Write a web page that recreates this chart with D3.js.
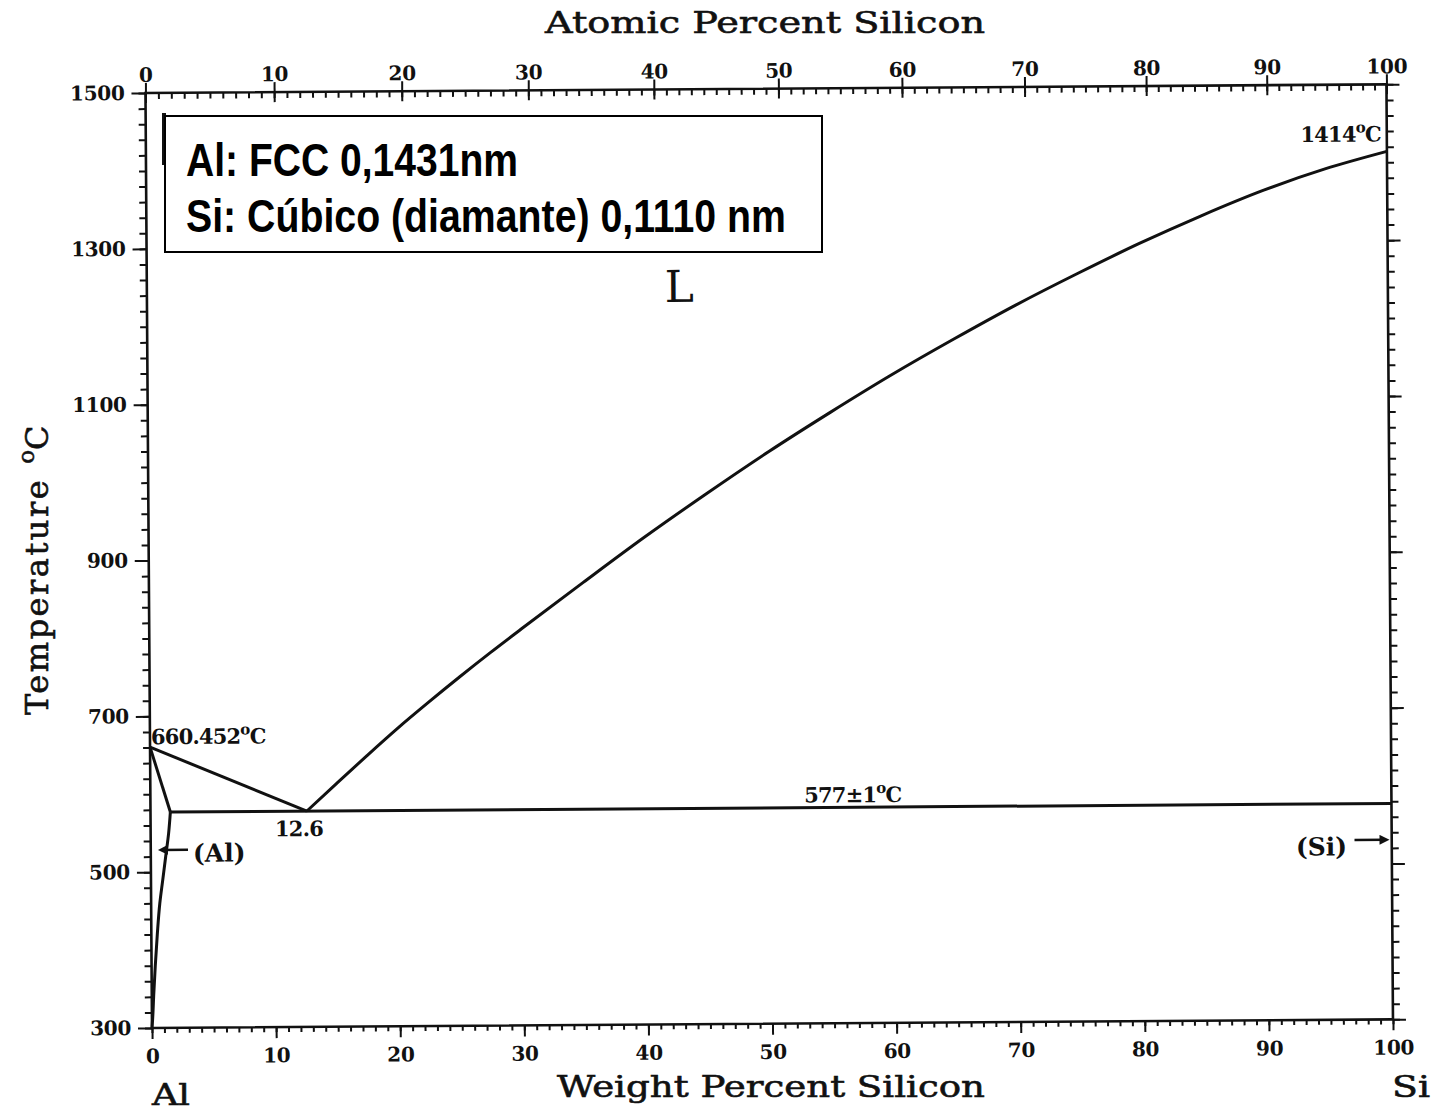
<!DOCTYPE html>
<html lang="es">
<head>
<meta charset="UTF-8">
<title>Diagrama de fases Al-Si</title>
<script src="https://cdn.jsdelivr.net/npm/d3@7/dist/d3.min.js"></script>
<style>
  body { margin: 0; background: #fff; }
  svg { display: block; }
</style>
</head>
<body>
<svg id="chart" width="1435" height="1113"></svg>
<script>
const liqSiWt = [12.6, 15, 17.5, 20, 22.5, 25, 27.5, 30, 35, 40, 45, 50, 55, 60, 65, 70, 75, 80, 85, 90, 95, 100];
const liqSiT  = [577, 612, 648, 683, 716, 748, 779, 809, 868, 926, 981, 1034, 1084, 1132, 1177, 1220, 1260, 1298, 1333, 1365, 1392, 1414];
const liqAlWt = [0, 12.6];
const liqAlT  = [660.452, 577];
const solAlWt = [0, 1.6];
const solAlT  = [660.452, 577];
const solvusWt = [1.6, 1.45, 1.2, 0.95, 0.7, 0.48, 0.3, 0.15, 0.05, 0];
const solvusT  = [577, 550, 520, 490, 460, 420, 380, 340, 310, 300];
const eutWt = [1.6, 100];
const eutT  = [577, 577];

// ejes
const wtTicks = [0, 10, 20, 30, 40, 50, 60, 70, 80, 90, 100];
const atTicks = [0, 10, 20, 30, 40, 50, 60, 70, 80, 90, 100];
const tempTicks = [300, 500, 700, 900, 1100, 1300, 1500];
const mAl = 26.9815, mSi = 28.0855;

const serif = '"DejaVu Serif", "Liberation Serif", serif';
const svg = d3.select('#chart');
svg.append('rect').attr('width', 1435).attr('height', 1113).attr('fill', '#fff');

const W = 1241, H = 935;
const x = d3.scaleLinear().domain([0, 100]).range([0, W]);
const y = d3.scaleLinear().domain([300, 1500]).range([0, -H]);
// escala superior: % atómico -> posición en % en peso
const atToWt = a => 100 * a * mSi / (a * mSi + (100 - a) * mAl);
const atDom = d3.range(0, 101);
const xa = d3.scaleLinear().domain(atDom).range(atDom.map(a => x(atToWt(a))));

// la hoja escaneada está un poco girada
const g = svg.append('g').attr('transform', 'translate(152,1028) rotate(-0.4)');

function axis(gen, tx, ty) {
  const a = g.append('g').attr('transform', `translate(${tx},${ty})`).call(gen);
  a.select('.domain').remove();
  a.selectAll('line').attr('stroke', '#111').attr('stroke-width', 2);
  a.selectAll('text')
    .attr('font-family', serif).attr('font-size', 20).attr('font-weight', 'bold')
    .attr('fill', '#111').attr('letter-spacing', -0.3);
  return a;
}
const fmt = d3.format('d');

// inferior (peso)
axis(d3.axisBottom(x).tickValues(d3.range(0, 101)).tickSize(5).tickFormat(''), 0, 0);
axis(d3.axisBottom(x).tickValues(wtTicks).tickSize(11).tickPadding(10).tickFormat(fmt), 0, 0);
// superior (atómico)
axis(d3.axisTop(xa).tickValues(d3.range(0, 101)).tickSize(-6).tickFormat(''), 0, -H);
axis(d3.axisTop(xa).tickValues(atTicks).tickSize(-10).tickFormat(''), 0, -H);
axis(d3.axisTop(xa).tickValues(atTicks).tickSize(10).tickPadding(1).tickFormat(fmt), 0, -H);
// izquierda
axis(d3.axisLeft(y).tickValues(d3.range(300, 1501, 20)).tickSize(7).tickFormat(''), 0, 0);
axis(d3.axisLeft(y).tickValues(tempTicks).tickSize(14).tickPadding(7).tickFormat(fmt), 0, 0);
// derecha
axis(d3.axisRight(y).tickValues(d3.range(300, 1501, 20)).tickSize(7).tickFormat(''), W, 0);
axis(d3.axisRight(y).tickValues(tempTicks).tickSize(13).tickFormat(''), W, 0);

g.append('rect')
  .attr('x', 0).attr('y', -H).attr('width', W).attr('height', H)
  .attr('fill', 'none').attr('stroke', '#111').attr('stroke-width', 2.6);

// curvas
const zip = (a, b) => a.map((v, i) => [v, b[i]]);
const lineX = d3.line().x(d => x(d[0])).y(d => y(d[1])).curve(d3.curveMonotoneX);
const lineY = d3.line().x(d => x(d[0])).y(d => y(d[1])).curve(d3.curveMonotoneY);
[
  [lineX, zip(liqSiWt, liqSiT)],
  [lineX, zip(liqAlWt, liqAlT)],
  [lineX, zip(solAlWt, solAlT)],
  [lineY, zip(solvusWt, solvusT)],
  [lineX, zip(eutWt, eutT)]
].forEach(([gen, d]) => {
  g.append('path').attr('d', gen(d))
    .attr('fill', 'none').attr('stroke', '#111').attr('stroke-width', 3)
    .attr('stroke-linejoin', 'round');
});

// etiquetas
function label(txt, px, py, opts = {}) {
  const t = g.append('text')
    .attr('x', px).attr('y', py)
    .attr('font-family', serif).attr('font-weight', 'bold')
    .attr('font-size', opts.size || 21)
    .attr('letter-spacing', opts.ls != null ? opts.ls : -0.8)
    .attr('text-anchor', opts.anchor || 'start')
    .attr('fill', '#111');
  if (opts.deg) {
    t.append('tspan').text(txt);
    t.append('tspan').attr('dy', -9).attr('font-size', 15).text('o');
    t.append('tspan').attr('dy', 9).text('C');
  } else {
    t.text(txt);
  }
  return t;
}

label('660.452', x(0) + 1, y(660.452) - 3, { deg: true });
label('12.6', x(12.6) - 8, y(577) + 25, { anchor: 'middle' });
label('577±1', x(56.6), y(577) - 5, { deg: true, anchor: 'middle' });
label('1414', x(100) - 6, y(1414) - 10, { deg: true, anchor: 'end' });
label('(Al)', x(3.4), y(513), { size: 25, ls: 0 });
label('(Si)', x(96.4), y(511), { size: 25, ls: 0, anchor: 'end' });
label('L', x(42.9), y(1227), { size: 44, ls: 0, anchor: 'middle' }).attr('font-weight', 'normal');

// flechas
const defs = svg.append('defs');
defs.append('marker').attr('id', 'arrow')
  .attr('viewBox', '0 0 10 10').attr('refX', 6).attr('refY', 5)
  .attr('markerWidth', 6).attr('markerHeight', 4).attr('orient', 'auto')
  .append('path').attr('d', 'M0,0 L10,5 L0,10 z').attr('fill', '#111');
[[3.0, 0.9, 528.5], [97.0, 99.5, 530.5]].forEach(([a, b, t]) => {
  g.append('line')
    .attr('x1', x(a)).attr('x2', x(b)).attr('y1', y(t)).attr('y2', y(t))
    .attr('stroke', '#111').attr('stroke-width', 2.5)
    .attr('marker-end', 'url(#arrow)');
});

// títulos de ejes
function title(txt, px, py, len) {
  return svg.append('text')
    .attr('x', px).attr('y', py)
    .attr('font-family', serif).attr('font-size', 30)
    .attr('fill', '#111').attr('stroke', '#111').attr('stroke-width', 0.6)
    .attr('textLength', len).attr('lengthAdjust', 'spacingAndGlyphs')
    .text(txt);
}
title('Atomic Percent Silicon', 545, 33, 440);
title('Weight Percent Silicon', 557, 1097, 428);
title('Al', 152, 1105, 38);
title('Si', 1392, 1097, 38);

const yl = svg.append('text')
  .attr('transform', 'translate(48,715) rotate(-90)')
  .attr('font-family', serif).attr('font-size', 32)
  .attr('fill', '#111').attr('stroke', '#111').attr('stroke-width', 0.6);
yl.append('tspan').attr('letter-spacing', 2.5).text('Temperature');
yl.append('tspan').attr('dx', 14).attr('dy', -14).attr('font-size', 23).text('o');
yl.append('tspan').attr('dy', 14).text('C');

// recuadro con la estructura cristalina
svg.append('line')
  .attr('x1', 164).attr('x2', 164).attr('y1', 113).attr('y2', 165)
  .attr('stroke', '#111').attr('stroke-width', 4);
svg.append('rect')
  .attr('x', 165).attr('y', 116).attr('width', 657).attr('height', 136)
  .attr('fill', '#fff').attr('stroke', '#000').attr('stroke-width', 2);
const boxFont = '"Liberation Sans Narrow", "Liberation Sans", Arial, sans-serif';
[['Al: FCC 0,1431nm', 176, 332], ['Si: Cúbico (diamante) 0,1110 nm', 232, 600]].forEach(([t, by, len]) => {
  svg.append('text')
    .attr('x', 186).attr('y', by)
    .attr('font-family', boxFont).attr('font-weight', 'bold').attr('font-size', 47)
    .attr('textLength', len).attr('lengthAdjust', 'spacingAndGlyphs')
    .attr('fill', '#000')
    .text(t);
});
</script>
</body>
</html>
